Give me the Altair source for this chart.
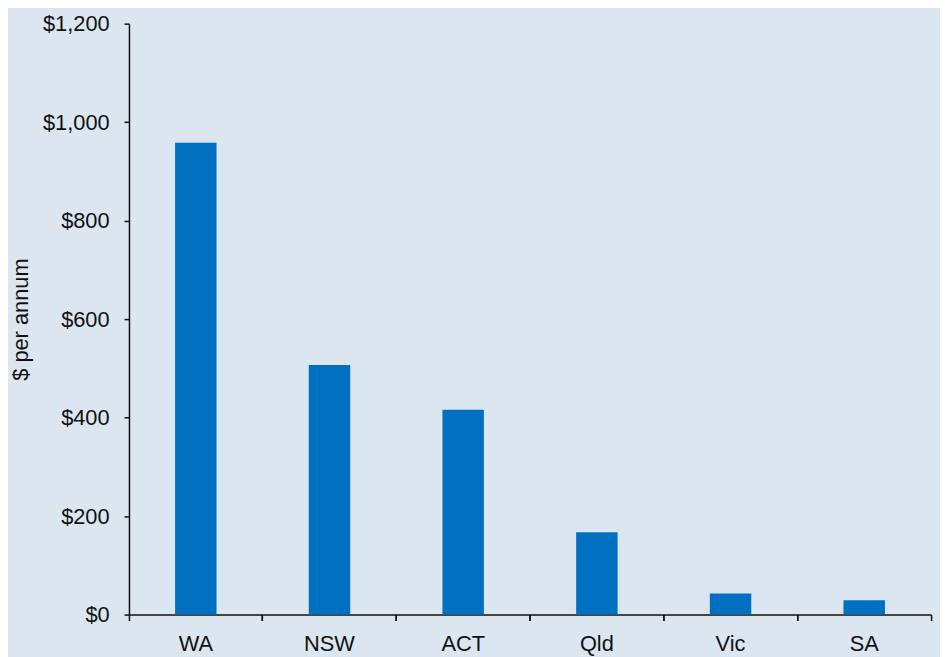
import altair as alt
import pandas as pd

states = ["WA", "NSW", "ACT", "Qld", "Vic", "SA"]
values = [958, 507, 416, 167, 43, 29]
y_ticks = [0, 200, 400, 600, 800, 1000, 1200]

df = pd.DataFrame({"state": states, "value": values})

FONT = "Liberation Sans"
BG = "#dce6f0"
BAR = "#0070c0"
INK = "#111111"

x_scale = alt.Scale(paddingInner=0, paddingOuter=0)
y_scale = alt.Scale(domain=[0, 1200], nice=False)

base = alt.Chart(df)

bars = base.mark_bar(color=BAR, width=alt.RelativeBandSize(0.31)).encode(
    x=alt.X(
        "state:N",
        sort=states,
        scale=x_scale,
        axis=alt.Axis(
            orient="bottom",
            title=None,
            ticks=False,
            tickSize=0,
            labelAngle=0,
            labelFontSize=22,
            labelPadding=19,
            labelFont=FONT,
            labelColor=INK,
            domain=True,
            domainColor=INK,
            domainWidth=1.5,
        ),
    ),
    y=alt.Y(
        "value:Q",
        scale=y_scale,
        axis=alt.Axis(
            title="$ per annum",
            values=y_ticks,
            format="$,.0f",
            grid=False,
            tickSize=5,
            tickColor=INK,
            tickWidth=1.5,
            labelPadding=15,
            labelFontSize=22,
            labelFont=FONT,
            labelColor=INK,
            domainColor=INK,
            domainWidth=1.5,
            titleFont=FONT,
            titleFontSize=22,
            titleFontWeight="normal",
            titleColor=INK,
            titleX=-109,
            titleY=298,
            titleAlign="center",
            titleBaseline="middle",
            titleAngle=-90,
        ),
    ),
)


def tick_layer(pos):
    return base.mark_bar(opacity=0).encode(
        x=alt.X(
            "state:N",
            sort=states,
            scale=x_scale,
            axis=alt.Axis(
                orient="bottom",
                title=None,
                labels=False,
                domain=False,
                ticks=True,
                tickSize=6,
                tickColor=INK,
                tickWidth=1.5,
                bandPosition=pos,
            ),
        ),
    )


chart = (
    alt.layer(bars, tick_layer(0), tick_layer(1))
    .resolve_axis(x="independent")
    .properties(
        width=809,
        height=596,
        background=BG,
        padding={"left": 122, "top": 13, "right": 9, "bottom": 40},
        autosize=alt.AutoSizeParams(type="none"),
    )
    .configure_view(strokeWidth=0)
)

chart.save("out.html", embed_options={"renderer": "svg", "actions": False})
